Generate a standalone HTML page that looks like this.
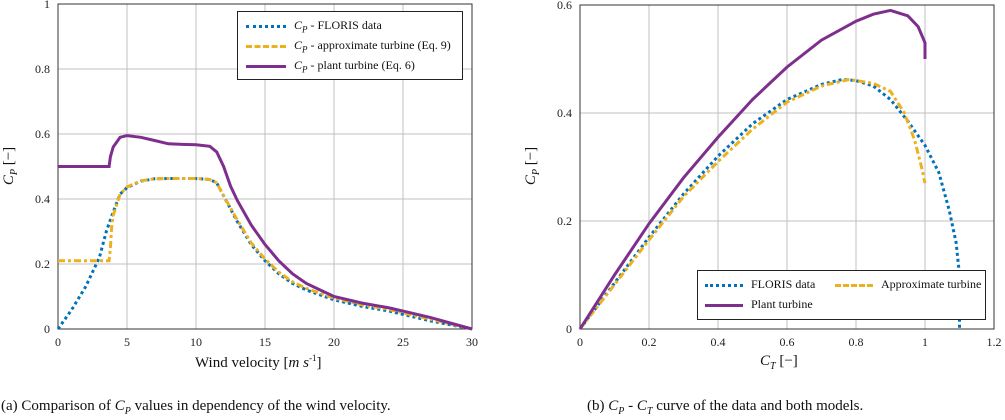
<!DOCTYPE html>
<html><head><meta charset="utf-8">
<style>
body{margin:0;background:#fff;}
svg{display:block;font-family:"Liberation Serif",serif;}
</style></head>
<body>
<svg id="s" width="1005" height="420" xmlns="http://www.w3.org/2000/svg">
 <text transform="translate(13,166) rotate(-90)" text-anchor="middle" font-size="15" fill="#111"><tspan font-style="italic">C</tspan><tspan font-style="italic" font-size="10" dy="4">P</tspan><tspan dy="-4"> [−]</tspan></text>
 <text transform="translate(535,166) rotate(-90)" text-anchor="middle" font-size="15" fill="#111"><tspan font-style="italic">C</tspan><tspan font-style="italic" font-size="10" dy="4">P</tspan><tspan dy="-4"> [−]</tspan></text>
</svg>
<script>
// Left chart data
const leftXTicks=[0,5,10,15,20,25,30];
const leftYTicks=[0,0.2,0.4,0.6,0.8,1];
const floV=[0,1,2,3,3.5,4,4.5,5,6,7,8,10,11,11.5,12,13,14,15,16,17,18,19,20,22,24,25,27,30];
const floCp=[0,0.06,0.13,0.22,0.3,0.36,0.415,0.435,0.455,0.462,0.463,0.463,0.46,0.45,0.41,0.33,0.26,0.21,0.17,0.14,0.12,0.105,0.09,0.07,0.055,0.045,0.025,0];
const appV=[0,3.7,3.8,3.9,4,4.5,5,6,7,8,10,11,11.5,12,13,14,15,16,17,18,19,20,22,24,25,27,30];
const appCp=[0.21,0.21,0.25,0.32,0.35,0.415,0.437,0.456,0.462,0.463,0.463,0.46,0.45,0.41,0.335,0.265,0.215,0.175,0.145,0.125,0.11,0.095,0.075,0.06,0.05,0.03,0];
const plaV=[0,3.7,3.8,4,4.5,5,6,7,8,9,10,11,11.5,12,12.5,13,14,15,16,17,18,19,20,22,24,25,27,30];
const plaCp=[0.5,0.5,0.53,0.56,0.59,0.595,0.59,0.58,0.57,0.568,0.567,0.562,0.545,0.5,0.44,0.395,0.32,0.26,0.21,0.17,0.14,0.12,0.1,0.08,0.065,0.055,0.035,0];
// Right chart data
const rightXTicks=[0,0.2,0.4,0.6,0.8,1,1.2];
const rightYTicks=[0,0.2,0.4,0.6];
const floCt=[0,0.1,0.2,0.3,0.4,0.5,0.6,0.7,0.76,0.8,0.85,0.9,0.95,1.0,1.04,1.07,1.09,1.1,1.1];
const floCp2=[0,0.085,0.17,0.25,0.32,0.38,0.425,0.453,0.462,0.46,0.45,0.425,0.385,0.34,0.29,0.22,0.16,0.1,0];
const appCt=[0,0.1,0.2,0.3,0.4,0.5,0.6,0.7,0.78,0.85,0.9,0.94,0.97,0.99,1.0];
const appCp2=[0,0.082,0.165,0.245,0.31,0.37,0.42,0.45,0.462,0.455,0.44,0.4,0.35,0.3,0.27];
const plaCt=[0,0.1,0.2,0.3,0.4,0.5,0.6,0.7,0.8,0.85,0.9,0.95,0.98,1.0,1.0];
const plaCp2=[0,0.1,0.195,0.28,0.355,0.425,0.485,0.535,0.57,0.583,0.59,0.58,0.56,0.53,0.5];

const NS="http://www.w3.org/2000/svg",S=document.getElementById('s');
function el(t,a,p){const e=document.createElementNS(NS,t);for(const k in a)e.setAttribute(k,a[k]);(p||S).appendChild(e);return e;}
const C={blue:'#0072BD',orange:'#EDB120',purple:'#7E2F8E'};
const styles={
 flo:{stroke:C.blue,'stroke-width':3,'stroke-dasharray':'3,3',fill:'none'},
 app:{stroke:C.orange,'stroke-width':3,'stroke-dasharray':'7,3,3,3',fill:'none'},
 pla:{stroke:C.purple,'stroke-width':3,fill:'none'}
};
function chart(name,x0,x1,y0,y1,xmax,ymax,xt,yt,series){
 const g=el('g',{});
 
 
 const sx=v=>x0+(x1-x0)*v/xmax, sy=v=>y0-(y0-y1)*v/ymax;
 xt.forEach(t=>{
  const l=el('line',{x1:sx(t),x2:sx(t),y1:y1,y2:y0,stroke:'#c0c0c0','stroke-width':1},g);
  
  const tx=el('text',{x:sx(t),y:y0+17,'text-anchor':'middle','font-size':12,fill:'#222'},g);
  
  tx.textContent=String(t);
 });
 yt.forEach(t=>{
  const l=el('line',{x1:x0,x2:x1,y1:sy(t),y2:sy(t),stroke:'#c0c0c0','stroke-width':1},g);
  
  const tx=el('text',{x:x0-8,y:sy(t)+4,'text-anchor':'end','font-size':12,fill:'#222'},g);
  
  tx.textContent=String(t);
 });
 const fr=el('rect',{x:x0,y:y1,width:x1-x0,height:y0-y1,fill:'none',stroke:'#333','stroke-width':1},g);
 
 series.forEach(s=>{
  const d=s.xs.map((v,i)=>(i?'L':'M')+sx(v).toFixed(1)+','+sy(s.ys[i]).toFixed(1)).join('');
  const p=el('path',Object.assign({d:d},styles[s.st]),g);
  
 });
 return g;
}
chart('left-chart',58,472,329,4,30,1,leftXTicks,leftYTicks,[
 {xs:floV,ys:floCp,st:'flo',name:'floris-cp-line'},
 {xs:appV,ys:appCp,st:'app',name:'approx-cp-line'},
 {xs:plaV,ys:plaCp,st:'pla',name:'plant-cp-line'}]);
chart('right-chart',580,994,329,5,1.2,0.6,rightXTicks,rightYTicks,[
 {xs:floCt,ys:floCp2,st:'flo',name:'floris-cp-ct-line'},
 {xs:appCt,ys:appCp2,st:'app',name:'approx-cp-ct-line'},
 {xs:plaCt,ys:plaCp2,st:'pla',name:'plant-cp-ct-line'}]);
</script>
<div style="position:absolute;left:0;top:0;width:1005px;height:420px;font-family:'Liberation Serif',serif;color:#111;pointer-events:none">
 <div style="position:absolute;left:237px;top:11px;width:224px;height:67px;border:1px solid #222;background:#fff;font-size:12px">
  <div style="position:absolute;left:8px;top:6px;white-space:nowrap"><span style="display:inline-block;width:40px;border-top:3px dotted #0072BD;vertical-align:middle;margin-right:8px"></span><i>C<sub style="font-size:9px">P</sub></i> - FLORIS data</div>
  <div style="position:absolute;left:8px;top:26px;white-space:nowrap"><span style="display:inline-block;width:40px;border-top:3px dashed #EDB120;vertical-align:middle;margin-right:8px"></span><i>C<sub style="font-size:9px">P</sub></i> - approximate turbine (Eq. 9)</div>
  <div style="position:absolute;left:8px;top:46px;white-space:nowrap"><span style="display:inline-block;width:40px;border-top:3px solid #7E2F8E;vertical-align:middle;margin-right:8px"></span><i>C<sub style="font-size:9px">P</sub></i> - plant turbine (Eq. 6)</div>
 </div>
 <div style="position:absolute;left:697px;top:270px;width:287px;height:48px;border:1px solid #222;background:#fff;font-size:12px">
  <div style="position:absolute;left:7px;top:6px;white-space:nowrap"><span style="display:inline-block;width:38px;border-top:3px dotted #0072BD;vertical-align:middle;margin-right:8px"></span>FLORIS data</div>
  <div style="position:absolute;left:137px;top:6px;white-space:nowrap"><span style="display:inline-block;width:38px;border-top:3px dashed #EDB120;vertical-align:middle;margin-right:8px"></span>Approximate turbine</div>
  <div style="position:absolute;left:7px;top:26px;white-space:nowrap"><span style="display:inline-block;width:38px;border-top:3px solid #7E2F8E;vertical-align:middle;margin-right:8px"></span>Plant turbine</div>
 </div>
 <div style="position:absolute;left:195px;top:353px;font-size:15px;white-space:nowrap">Wind velocity [<i>m s</i><sup style="font-size:9px">-1</sup>]</div>
 <div style="position:absolute;left:760px;top:353px;font-size:15px;white-space:nowrap"><i>C<sub style="font-size:10px">T</sub></i> [−]</div>
 <div style="position:absolute;left:1px;top:398px;font-size:15px;white-space:nowrap">(a) Comparison of <i>C<sub style="font-size:10px">P</sub></i> values in dependency of the wind velocity.</div>
 <div style="position:absolute;left:587px;top:398px;font-size:15px;white-space:nowrap">(b) <i>C<sub style="font-size:10px">P</sub></i> - <i>C<sub style="font-size:10px">T</sub></i> curve of the data and both models.</div>
</div>
</body></html>
